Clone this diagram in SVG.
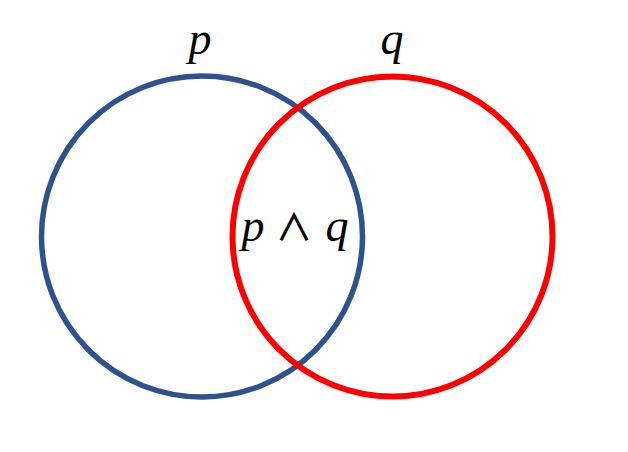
<svg xmlns="http://www.w3.org/2000/svg" width="628" height="452" viewBox="0 0 628 452">
<style>
.lbl{font-family:"Liberation Serif","DejaVu Serif",serif;font-style:italic;font-size:46px;fill:#000}
.op{font-family:"Noto Sans CJK SC","DejaVu Sans",sans-serif;font-style:normal;font-weight:500;font-size:37px}
</style>
<rect width="628" height="452" fill="#fff"/>
<g id="p">
<circle cx="202" cy="236.5" r="160.5" fill="none" stroke="#2F528F" stroke-width="5.5"/>
<text class="lbl" x="200" y="54" text-anchor="middle">p</text>
</g>
<g id="q">
<circle cx="392.5" cy="236.5" r="160" fill="none" stroke="#FF0000" stroke-width="6"/>
<text class="lbl" x="392" y="54" text-anchor="middle">q</text>
</g>
<g id="pq">
<text class="lbl" x="295" y="241" text-anchor="middle">p<tspan class="op" dx="11">∧</tspan><tspan dx="13">q</tspan></text>
</g>
</svg>
